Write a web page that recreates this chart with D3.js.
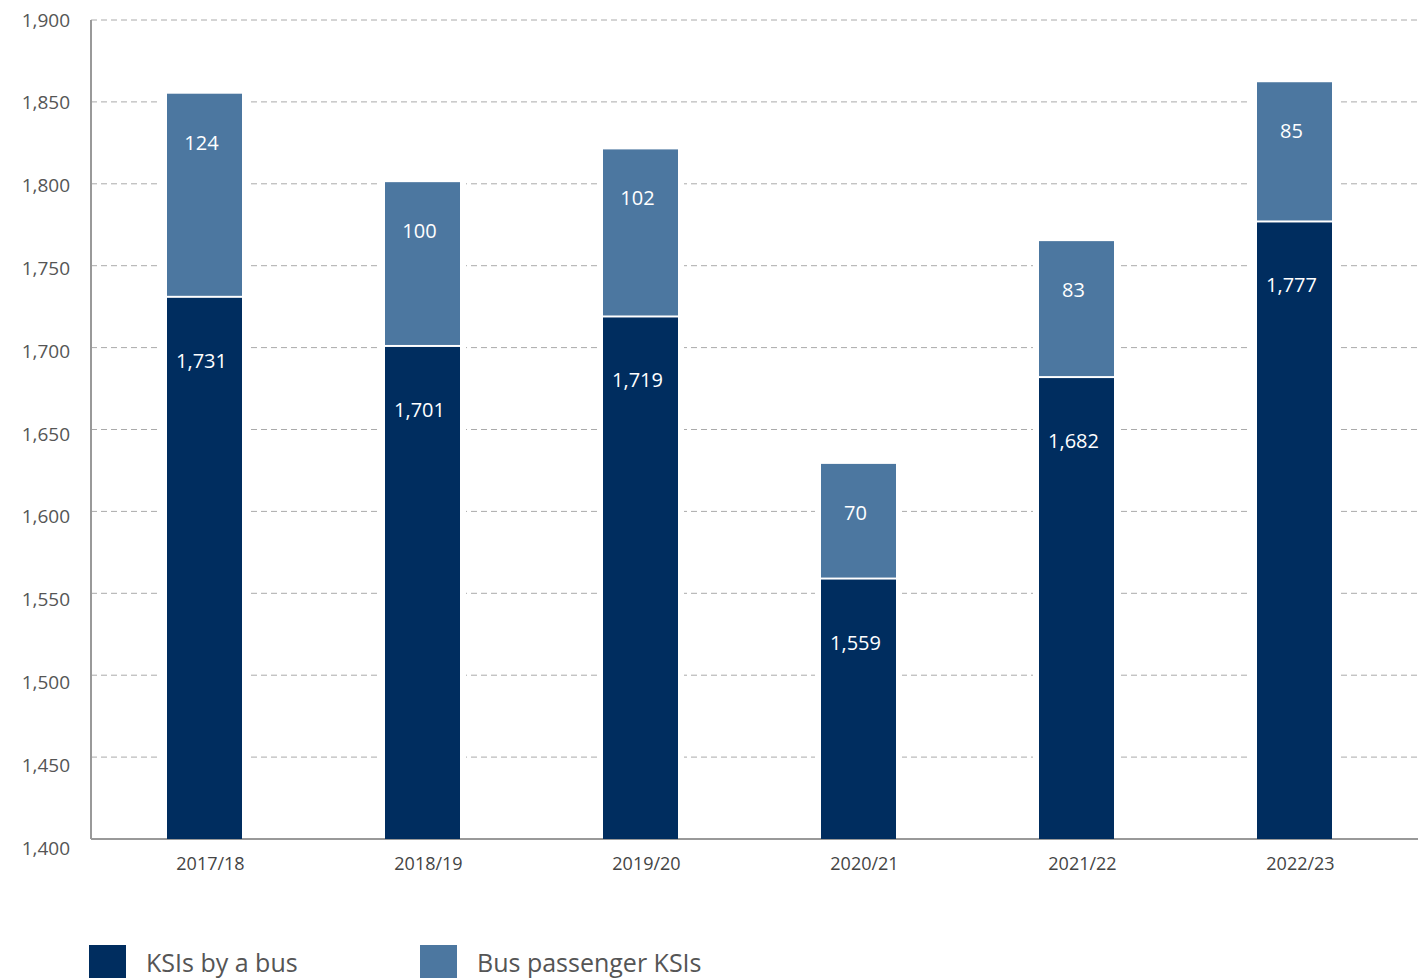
<!DOCTYPE html>
<html>
<head>
<meta charset="utf-8">
<script src="https://cdn.jsdelivr.net/npm/d3@7"></script>
<style>
  html, body { margin: 0; padding: 0; background: #fff; }
  svg { display: block; font-family: "Open Sans", "Noto Sans", sans-serif; }
</style>
</head>
<body>
<svg id="chart" width="1428" height="978"></svg>
<script>
const categories = ["2017/18", "2018/19", "2019/20", "2020/21", "2021/22", "2022/23"];
const ksisByBus = [1731, 1701, 1719, 1559, 1682, 1777];
const busPassengerKsis = [124, 100, 102, 70, 83, 85];
const yTicks = [1400, 1450, 1500, 1550, 1600, 1650, 1700, 1750, 1800, 1850, 1900];
const seriesNames = ["KSIs by a bus", "Bus passenger KSIs"];
const colors = ["#002d5f", "#4c77a0"];

(function () {
const svg = d3.select("#chart");
const plotLeft = 91, plotRight = 1418, plotTop = 20, plotBottom = 839;
const y = d3.scaleLinear().domain([1400, 1900]).range([plotBottom, plotTop]);
const yLabel = d3.scaleLinear().domain([1400, 1900]).range([848, 20]);
const x = d3.scalePoint().domain(categories).range([204.5, 1294.5]);
const barW = 75;
const fmt = d3.format(",");

// gridlines
svg.append("g").selectAll("line").data(yTicks.filter(d => d > 1400)).join("line")
  .attr("x1", plotLeft).attr("x2", plotRight)
  .attr("y1", d => y(d)).attr("y2", d => y(d))
  .attr("stroke", "#aaa").attr("stroke-width", 1).attr("stroke-dasharray", "6,4");

// gaps around bars
svg.append("g").selectAll("rect").data(categories).join("rect")
  .attr("x", d => x(d) - barW / 2 - 6).attr("width", barW + 12)
  .attr("y", (d, i) => y(ksisByBus[i] + busPassengerKsis[i]) - 2)
  .attr("height", (d, i) => plotBottom - y(ksisByBus[i] + busPassengerKsis[i]) + 2)
  .attr("fill", "#fff");

// axes lines
svg.append("line").attr("x1", plotLeft).attr("x2", plotLeft).attr("y1", plotTop).attr("y2", plotBottom)
  .attr("stroke", "#999").attr("stroke-width", 2);
svg.append("line").attr("x1", plotLeft).attr("x2", plotRight).attr("y1", plotBottom).attr("y2", plotBottom)
  .attr("stroke", "#999").attr("stroke-width", 2);

// y labels
svg.append("g").selectAll("text").data(yTicks).join("text")
  .attr("x", 70).attr("y", d => yLabel(d)).attr("dy", "0.35em")
  .attr("text-anchor", "end").attr("fill", "#555").attr("font-size", 19)
  .text(d => fmt(d));

// x labels
svg.append("g").selectAll("text").data(categories).join("text")
  .attr("x", d => x(d) + 6).attr("y", 864).attr("dy", "0.35em")
  .attr("text-anchor", "middle").attr("fill", "#444").attr("font-size", 18)
  .text(d => d);

// bottom segments
svg.append("g").selectAll("rect").data(categories).join("rect")
  .attr("x", d => x(d) - barW / 2).attr("width", barW)
  .attr("y", (d, i) => y(ksisByBus[i]) + 1)
  .attr("height", (d, i) => plotBottom - y(ksisByBus[i]) - 1)
  .attr("fill", colors[0]);

// top segments
svg.append("g").selectAll("rect").data(categories).join("rect")
  .attr("x", d => x(d) - barW / 2).attr("width", barW)
  .attr("y", (d, i) => y(ksisByBus[i] + busPassengerKsis[i]))
  .attr("height", (d, i) => y(ksisByBus[i]) - y(ksisByBus[i] + busPassengerKsis[i]) - 1)
  .attr("fill", colors[1]);

// value labels
svg.append("g").selectAll("text").data(categories).join("text")
  .attr("x", d => x(d) - 3).attr("y", (d, i) => y(ksisByBus[i]) + 64).attr("dy", "0.35em")
  .attr("text-anchor", "middle").attr("fill", "#fff").attr("font-size", 20)
  .text((d, i) => fmt(ksisByBus[i]));
svg.append("g").selectAll("text").data(categories).join("text")
  .attr("x", d => x(d) - 3).attr("y", (d, i) => y(ksisByBus[i] + busPassengerKsis[i]) + 49).attr("dy", "0.35em")
  .attr("text-anchor", "middle").attr("fill", "#fff").attr("font-size", 20)
  .text((d, i) => fmt(busPassengerKsis[i]));

// legend
const legX = [89, 420];
const leg = svg.append("g").selectAll("g").data(seriesNames).join("g")
  .attr("transform", (d, i) => `translate(${legX[i]},945)`);
leg.append("rect").attr("width", 37).attr("height", 40).attr("fill", (d, i) => colors[i]);
leg.append("text").attr("x", 57).attr("y", 18).attr("dy", "0.35em")
  .attr("fill", "#555").attr("font-size", 25).text(d => d);
})();
</script>
</body>
</html>
